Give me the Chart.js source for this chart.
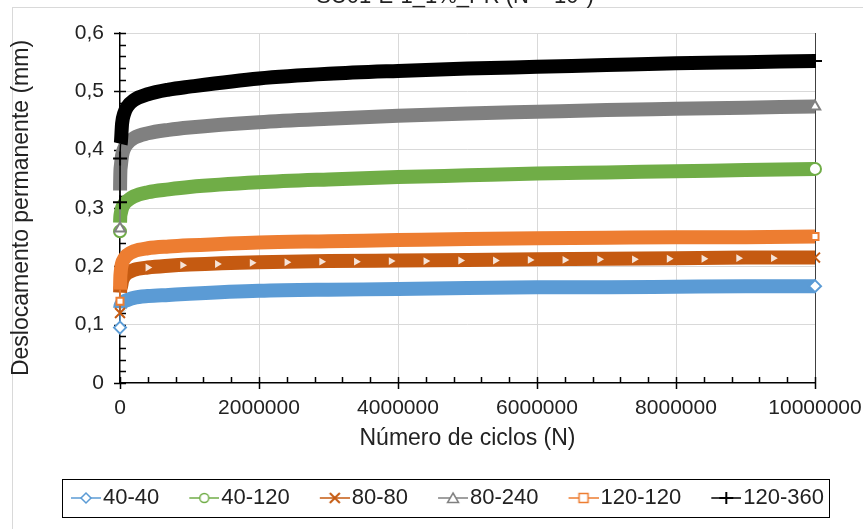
<!DOCTYPE html>
<html>
<head>
<meta charset="utf-8">
<script src="https://cdn.jsdelivr.net/npm/chart.js@4.4.1/dist/chart.umd.min.js"></script>
<style>
  html, body { margin: 0; padding: 0; background: #fff; }
  #wrap { position: relative; width: 863px; height: 529px; }
</style>
</head>
<body>
<div id="wrap"><canvas id="grafico"></canvas></div>
<script>
var TITULO = 'SU01-E-1_1%_PR (N = 10\u2077)';

// numero de ciclos (eixo x), comum a todas as series
var CICLOS = [0, 1000, 10000, 30000, 60000, 100000, 200000, 400000, 700000, 1000000,
  2000000, 3000000, 4000000, 5000000, 6000000, 7000000, 8000000, 9000000, 10000000];

// deslocamento permanente (mm)
var S_40_40   = [0.095, 0.128, 0.133, 0.137, 0.140, 0.142, 0.146, 0.149, 0.151, 0.153, 0.158, 0.160, 0.161, 0.163, 0.164, 0.164, 0.165, 0.166, 0.166];
var S_40_120  = [0.260, 0.275, 0.290, 0.300, 0.307, 0.312, 0.320, 0.327, 0.332, 0.336, 0.344, 0.349, 0.353, 0.356, 0.359, 0.361, 0.363, 0.365, 0.367];
var S_80_80   = [0.120, 0.155, 0.163, 0.175, 0.183, 0.188, 0.194, 0.198, 0.201, 0.203, 0.207, 0.209, 0.210, 0.211, 0.212, 0.213, 0.214, 0.215, 0.215];
var S_80_240  = [0.265, 0.330, 0.370, 0.390, 0.402, 0.410, 0.420, 0.428, 0.434, 0.438, 0.447, 0.453, 0.458, 0.462, 0.465, 0.468, 0.470, 0.472, 0.474];
var S_120_120 = [0.140, 0.160, 0.190, 0.205, 0.213, 0.219, 0.226, 0.231, 0.234, 0.236, 0.241, 0.243, 0.245, 0.247, 0.248, 0.249, 0.250, 0.250, 0.251];
var S_120_360 = [0.310, 0.385, 0.410, 0.445, 0.462, 0.473, 0.485, 0.495, 0.503, 0.508, 0.522, 0.530, 0.535, 0.539, 0.542, 0.545, 0.548, 0.550, 0.552];

// marcadores claros que aparecem dentro da faixa 80-80
var TRI_CICLOS = [400000, 900000, 1400000, 1900000, 2400000, 2900000, 3400000, 3900000, 4400000, 4900000,
  5400000, 5900000, 6400000, 6900000, 7400000, 7900000, 8400000, 8900000, 9400000];
var TRI_80_80 = [0.198, 0.202, 0.204, 0.206, 0.207, 0.208, 0.208, 0.209, 0.209, 0.210,
  0.210, 0.211, 0.211, 0.212, 0.212, 0.213, 0.213, 0.214, 0.214];

var NOMES = ['40-40', '40-120', '80-80', '80-240', '120-120', '120-360'];
var SERIES = [S_40_40, S_40_120, S_80_80, S_80_240, S_120_120, S_120_360];

var Y_LABELS = ['0', '0,1', '0,2', '0,3', '0,4', '0,5', '0,6'];
var X_LABELS = ['0', '2000000', '4000000', '6000000', '8000000', '10000000'];

var CORES = ['#5b9bd5', '#70ad47', '#c55a11', '#808080', '#ed7d31', '#000000'];
var MARCAS = ['rectRot', 'circle', 'crossRot', 'triangle', 'rect', 'cross'];
var RAIOS = [6, 6, 7, 6, 5, 7];
var FINOS = [1, 1, 1, 1, 1, 2];
var FAIXA = 14;

var FONTE = '"Liberation Sans", Arial, sans-serif';
var TEXTO = '#222';
var LEG_FONTE = 22;
var LEG_BOX = 45;

function simbolo(cor, marca) {
  var w = LEG_BOX + 18;
  var cv = document.createElement('canvas');
  cv.width = w; cv.height = 16;
  var c = cv.getContext('2d');
  var x0 = w - 30, cx = x0 + 15, cy = 8;
  c.strokeStyle = cor;
  c.lineWidth = 1.5;
  c.beginPath(); c.moveTo(x0, cy); c.lineTo(w, cy); c.stroke();
  c.fillStyle = '#fff';
  c.beginPath();
  if (marca === 'rectRot') {
    c.moveTo(cx, cy - 5); c.lineTo(cx + 5, cy); c.lineTo(cx, cy + 5); c.lineTo(cx - 5, cy); c.closePath();
    c.fill(); c.stroke();
  } else if (marca === 'circle') {
    c.arc(cx, cy, 4.5, 0, Math.PI * 2); c.fill(); c.stroke();
  } else if (marca === 'crossRot') {
    c.lineWidth = 2;
    c.moveTo(cx - 5, cy - 5); c.lineTo(cx + 5, cy + 5); c.moveTo(cx + 5, cy - 5); c.lineTo(cx - 5, cy + 5); c.stroke();
  } else if (marca === 'triangle') {
    c.moveTo(cx, cy - 5); c.lineTo(cx + 5.5, cy + 4.5); c.lineTo(cx - 5.5, cy + 4.5); c.closePath();
    c.fill(); c.stroke();
  } else if (marca === 'rect') {
    c.rect(cx - 4.5, cy - 4.5, 9, 9); c.fill(); c.stroke();
  } else {
    c.lineWidth = 2;
    c.moveTo(cx, cy - 6); c.lineTo(cx, cy + 6); c.moveTo(cx - 7, cy); c.lineTo(cx + 7, cy); c.stroke();
  }
  return cv;
}
var SIMBOLOS = NOMES.map(function(n, i) { return simbolo(CORES[i], MARCAS[i]); });

var datasets = NOMES.map(function(nome, i) {
  var ultimo = CICLOS.length - 1;
  return {
    label: nome,
    data: CICLOS.map(function(n, k) { return { x: n, y: SERIES[i][k] }; }),
    borderColor: CORES[i],
    backgroundColor: CORES[i],
    borderWidth: FAIXA,
    borderCapStyle: 'butt',
    borderJoinStyle: 'round',
    cubicInterpolationMode: 'monotone',
    pointStyle: MARCAS[i],
    pointRadius: function(ctx) {
      var k = ctx.dataIndex;
      return k < FINOS[i] || k === ultimo ? RAIOS[i] : 0;
    },
    pointBackgroundColor: '#fff',
    pointBorderColor: CORES[i],
    pointBorderWidth: 2,
    segment: {
      borderWidth: function(s) { return s.p0DataIndex < FINOS[i] ? 1.5 : FAIXA; }
    },
    clip: false,
    order: 10 - i
  };
});

datasets.push({
  label: '_tri',
  data: TRI_CICLOS.map(function(n, k) { return { x: n, y: TRI_80_80[k] }; }),
  showLine: false,
  pointStyle: 'triangle',
  rotation: 90,
  pointRadius: 4.5,
  pointBorderWidth: 0,
  pointBackgroundColor: '#f6e4d8',
  clip: false,
  order: 0
});

var decor = {
  id: 'decor',
  beforeDraw: function(chart) {
    var c = chart.ctx;
    c.save();
    c.fillStyle = '#fff';
    c.fillRect(0, 0, chart.width, chart.height);
    c.strokeStyle = '#d9d9d9';
    c.lineWidth = 1;
    c.strokeRect(12.5, 7.5, chart.width, chart.height);
    c.font = '22px ' + FONTE;
    c.fillStyle = TEXTO;
    c.textAlign = 'center';
    c.textBaseline = 'alphabetic';
    c.fillText(TITULO, 455, 3);
    c.restore();
  },
  beforeDatasetsDraw: function(chart) {
    var c = chart.ctx, a = chart.chartArea, sx = chart.scales.x, sy = chart.scales.y;
    c.save();
    c.strokeStyle = '#000';
    c.lineWidth = 1.5;
    c.beginPath();
    for (var i = 0; i <= 30; i++) {
      var py = Math.round(sy.getPixelForValue(i * 0.02)) + 0.5;
      c.moveTo(a.left - (i % 5 === 0 ? 6 : 0), py);
      c.lineTo(a.left + 6, py);
    }
    for (var j = 0; j <= 25; j++) {
      var px = Math.round(sx.getPixelForValue(j * 400000)) + 0.5;
      c.moveTo(px, a.bottom + (j % 5 === 0 ? 6 : 0));
      c.lineTo(px, a.bottom - 6);
    }
    c.stroke();
    c.restore();
  },
  afterUpdate: function(chart) {
    var lg = chart.legend;
    if (!lg || !lg.legendHitBoxes || !lg.legendHitBoxes.length) return;
    var hb = lg.legendHitBoxes;
    var ini = hb[0].left + LEG_BOX - 21;
    var fim = hb[hb.length - 1].left + hb[hb.length - 1].width;
    var d = Math.round((66 + 828) / 2 - (ini + fim) / 2);
    lg.left += d; lg.right += d;
    hb.forEach(function(h) { h.left += d; });
  },
  afterDraw: function(chart) {
    var lg = chart.legend, hb = lg.legendHitBoxes;
    if (!hb || !hb.length) return;
    var c = chart.ctx;
    var ini = hb[0].left + LEG_BOX - 21 - 9;
    var fim = hb[hb.length - 1].left + hb[hb.length - 1].width + 5;
    var cy = hb[0].top + hb[0].height / 2;
    c.save();
    c.strokeStyle = '#000';
    c.lineWidth = 1;
    c.strokeRect(Math.round(ini) + 0.5, Math.round(cy - 19) + 0.5, Math.round(fim - ini), 38);
    c.restore();
  }
};

new Chart(document.getElementById('grafico'), {
  type: 'line',
  data: { datasets: datasets },
  options: {
    responsive: true,
    maintainAspectRatio: false,
    animation: false,
    events: [],
    layout: { padding: { left: 0, right: 48, top: 33, bottom: 10 } },
    plugins: {
      title: { display: false },
      tooltip: { enabled: false },
      legend: {
        position: 'bottom',
        labels: {
          usePointStyle: true,
          pointStyleWidth: LEG_BOX,
          padding: 6,
          color: TEXTO,
          font: { size: LEG_FONTE, family: FONTE },
          generateLabels: function() {
            return NOMES.map(function(n, i) {
              return { text: n, pointStyle: SIMBOLOS[i], fillStyle: CORES[i], strokeStyle: CORES[i],
                lineWidth: 0, hidden: false, datasetIndex: i, fontColor: TEXTO };
            });
          }
        }
      }
    },
    scales: {
      x: {
        type: 'linear',
        min: 0,
        max: 10000000,
        afterFit: function(s) { s.height = 98; s.paddingLeft = 0; s.paddingRight = 0; },
        ticks: {
          stepSize: 2000000,
          autoSkip: false,
          maxRotation: 0,
          padding: 13,
          color: TEXTO,
          font: { size: 21, family: FONTE },
          callback: function(v, i) { return X_LABELS[i]; }
        },
        grid: {
          drawTicks: false,
          lineWidth: 1,
          color: function(c) {
            if (!c.tick) return '#d9d9d9';
            if (c.tick.value === 0) return 'rgba(0,0,0,0)';
            return c.tick.value === 10000000 ? '#404040' : '#d9d9d9';
          }
        },
        border: { display: true, color: '#000', width: 1.5 },
        title: {
          display: true,
          text: 'Número de ciclos (N)',
          color: TEXTO,
          font: { size: 23, family: FONTE },
          padding: { top: 0, bottom: 29 }
        }
      },
      y: {
        min: 0,
        max: 0.6,
        afterFit: function(s) { s.width = 120; s.paddingTop = 0; s.paddingBottom = 0; },
        ticks: {
          stepSize: 0.1,
          padding: 16,
          color: TEXTO,
          font: { size: 21, family: FONTE },
          callback: function(v, i) { return Y_LABELS[i]; }
        },
        grid: {
          drawTicks: false,
          lineWidth: 1,
          color: function(c) { return c.tick && c.tick.value === 0 ? 'rgba(0,0,0,0)' : '#d9d9d9'; }
        },
        border: { display: true, color: '#000', width: 1.5 },
        title: {
          display: true,
          text: 'Deslocamento permanente (mm)',
          color: TEXTO,
          font: { size: 23, family: FONTE },
          padding: { top: 8, bottom: 0 }
        }
      }
    }
  },
  plugins: [decor]
});
</script>
</body>
</html>
